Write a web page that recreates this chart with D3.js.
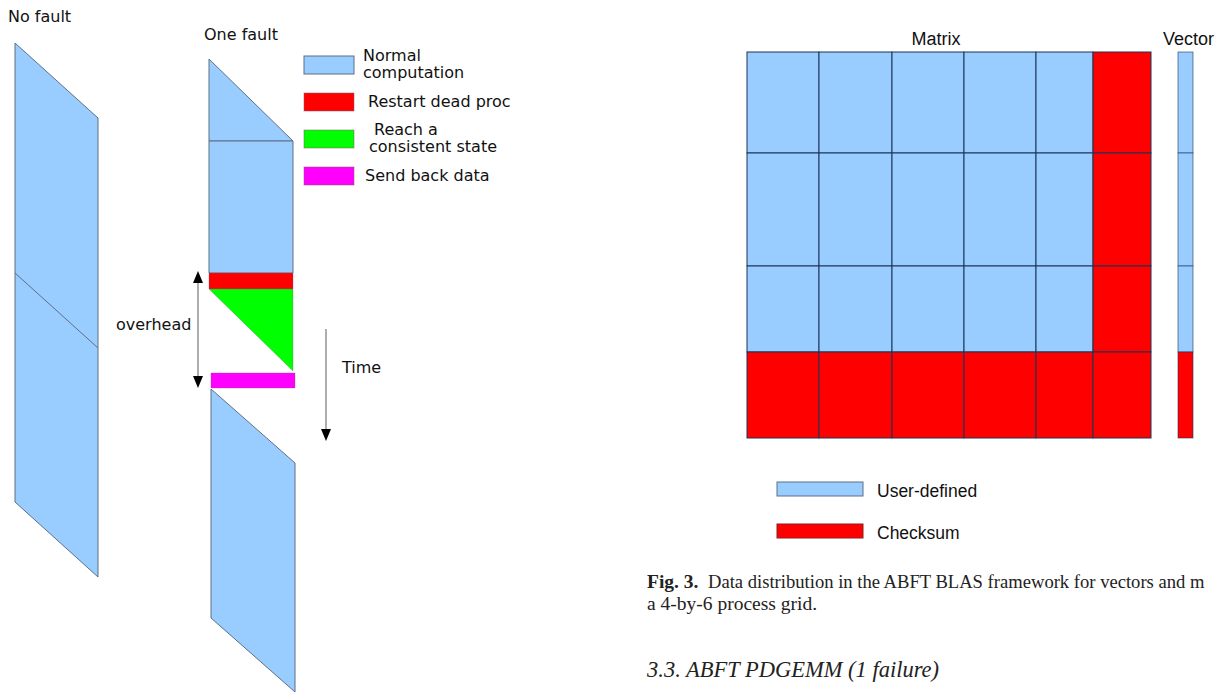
<!DOCTYPE html>
<html><head><meta charset="utf-8">
<script src="https://cdn.jsdelivr.net/npm/d3@7"></script>
<style>html,body{margin:0;padding:0;background:#fff;overflow:hidden}</style>
</head><body>
<svg id="c" width="1222" height="692"></svg>
<script>
// ---------- data ----------
// Left diagram: time units along the process column (0 = top of "No fault")
const noFaultSpan = [0, 459];          // left-edge start / end
const noFaultSkew = 75;                // time shift across the column
const noFaultCut = [230];              // iteration boundary on left edge
const oneFaultPhases = [
  {phase: "normal",     kind: "topTri",  t0: 16,  t1: 98},
  {phase: "normal",     kind: "rect",    t0: 98,  t1: 230},
  {phase: "restart",    kind: "rect",    t0: 230, t1: 246},
  {phase: "consistent", kind: "triR",    t0: 246, t1: 328},
  {phase: "sendback",   kind: "rectS",   t0: 330, t1: 345},
  {phase: "normal",     kind: "skew",    t0: 346, t1: 575, skew: 74}
];
const legendPhases = ["normal", "restart", "consistent", "sendback"];
const legendLabels = [["Normal", "computation"], ["Restart dead proc"], ["Reach a", "consistent state"], ["Send back data"]];
const overheadSpan = [228, 345];
const timeSpan = [286, 398];

// Right diagram: 4-by-6 process grid
const colBounds = [0, 72, 145, 217, 289, 346, 404];
const rowBounds = [0, 101, 214, 300, 386];
const checksumCol = 5;
const checksumRow = 3;
const gridLegend = ["User-defined", "Checksum"];

const captionBold = "Fig. 3.";
const captionLine1 = "Data distribution in the ABFT BLAS framework for vectors and m";
const captionLine2 = "a 4-by-6 process grid.";
const heading = "3.3.  ABFT PDGEMM (1 failure)";

// ---------- styles ----------
const col = {normal: "#99ccff", restart: "#ff0000", consistent: "#00ff00", sendback: "#ff00ff"};
const edge = "#5f6f86";
const gridEdge = "#1d3557";

const svg = d3.select("#c");
const ty = d3.scaleLinear().domain([0, 650]).range([43, 693]);
const sans = "'DejaVu Sans', Verdana, sans-serif";

// No fault column
const nfx = d3.scaleLinear().domain([0, 1]).range([15, 98]);
const line = d3.line();
svg.append("path")
  .attr("d", line([[nfx(0), ty(noFaultSpan[0])], [nfx(1), ty(noFaultSpan[0] + noFaultSkew)],
                   [nfx(1), ty(noFaultSpan[1] + noFaultSkew)], [nfx(0), ty(noFaultSpan[1])]]) + "Z")
  .attr("fill", col.normal).attr("stroke", edge).attr("stroke-width", 1);
noFaultCut.forEach(t => svg.append("line")
  .attr("x1", nfx(0)).attr("y1", ty(t)).attr("x2", nfx(1)).attr("y2", ty(t + noFaultSkew))
  .attr("stroke", edge).attr("stroke-width", 1));

// One fault column
const ofx = d3.scaleLinear().domain([0, 1]).range([209, 293]);
const ofx2 = d3.scaleLinear().domain([0, 1]).range([211, 295]);
oneFaultPhases.forEach(p => {
  let pts;
  if (p.kind === "topTri") pts = [[ofx(0), ty(p.t0)], [ofx(1), ty(p.t1)], [ofx(0), ty(p.t1)]];
  else if (p.kind === "rect") pts = [[ofx(0), ty(p.t0)], [ofx(1), ty(p.t0)], [ofx(1), ty(p.t1)], [ofx(0), ty(p.t1)]];
  else if (p.kind === "triR") pts = [[ofx(0), ty(p.t0)], [ofx(1), ty(p.t0)], [ofx(1), ty(p.t1)]];
  else if (p.kind === "rectS") pts = [[ofx2(0), ty(p.t0)], [ofx2(1), ty(p.t0)], [ofx2(1), ty(p.t1)], [ofx2(0), ty(p.t1)]];
  else pts = [[ofx2(0), ty(p.t0)], [ofx2(1), ty(p.t0 + p.skew)], [ofx2(1), ty(p.t1 + p.skew)], [ofx2(0), ty(p.t1)]];
  svg.append("path").attr("d", line(pts) + "Z")
    .attr("fill", col[p.phase]).attr("stroke", p.phase === "normal" ? edge : "#7a5a7a").attr("stroke-width", p.phase === "normal" ? 1 : 0.6)
    .attr("stroke-opacity", p.phase === "normal" ? 1 : 0.5);
});

// Arrows
function arrowHead(x, y, dir) {
  const h = 12 * dir, w = 5;
  svg.append("path").attr("d", line([[x, y], [x - w, y - h], [x + w, y - h]]) + "Z").attr("fill", "#000");
}
svg.append("line").attr("x1", 198).attr("x2", 198).attr("y1", ty(overheadSpan[0]) + 6).attr("y2", ty(overheadSpan[1]) - 6)
  .attr("stroke", "#777").attr("stroke-width", 1.2);
arrowHead(198, ty(overheadSpan[0]), -1);
arrowHead(198, ty(overheadSpan[1]), 1);
svg.append("line").attr("x1", 326).attr("x2", 326).attr("y1", ty(timeSpan[0])).attr("y2", ty(timeSpan[1]) - 6)
  .attr("stroke", "#777").attr("stroke-width", 1.2);
arrowHead(326, ty(timeSpan[1]), 1);

// Left texts
function txt(x, y, s, opts = {}) {
  return svg.append("text").attr("x", x).attr("y", y).text(s)
    .attr("font-family", opts.family || sans).attr("font-size", opts.size || 16)
    .attr("fill", opts.fill || "#111").attr("text-anchor", opts.anchor || "start")
    .attr("font-weight", opts.weight || "normal").attr("font-style", opts.style || "normal");
}
txt(8, 22, "No fault");
txt(204, 40, "One fault");
txt(116, 330, "overhead");
txt(342, 373, "Time");

// Legend (left)
const lgY = d3.scalePoint().domain(legendPhases).range([56, 167]);
const lgX = [363, 368, 374, 365];
const lgX2 = [363, 368, 369, 365];
legendPhases.forEach((ph, i) => {
  const y0 = lgY(ph);
  svg.append("rect").attr("x", 304).attr("y", y0).attr("width", 50).attr("height", 18)
    .attr("fill", col[ph]).attr("stroke", ph === "normal" ? edge : "#8a5a6a").attr("stroke-width", 1).attr("stroke-opacity", ph === "normal" ? 1 : 0.5);
  const lines = legendLabels[i];
  if (lines.length === 1) txt(lgX[i], y0 + 14, lines[0]);
  else { txt(lgX[i], y0 + 5, lines[0]); txt(lgX2[i], y0 + 22, lines[1]); }
});

// ---------- Matrix grid ----------
const gx = d3.scaleLinear().domain([0, 404]).range([747, 1151]);
const gy = d3.scaleLinear().domain([0, 386]).range([52, 438]);
const cells = [];
for (let r = 0; r < rowBounds.length - 1; r++)
  for (let c = 0; c < colBounds.length - 1; c++)
    cells.push({r, c, chk: c === checksumCol || r === checksumRow});
svg.append("g").selectAll("rect").data(cells).join("rect")
  .attr("x", d => gx(colBounds[d.c])).attr("y", d => gy(rowBounds[d.r]))
  .attr("width", d => gx(colBounds[d.c + 1]) - gx(colBounds[d.c]))
  .attr("height", d => gy(rowBounds[d.r + 1]) - gy(rowBounds[d.r]))
  .attr("fill", d => d.chk ? col.restart : col.normal)
  .attr("stroke", gridEdge).attr("stroke-width", 1);
// Vector
const vec = d3.range(rowBounds.length - 1).map(r => ({r, chk: r === checksumRow}));
svg.append("g").selectAll("rect").data(vec).join("rect")
  .attr("x", 1178).attr("y", d => gy(rowBounds[d.r])).attr("width", 15)
  .attr("height", d => gy(rowBounds[d.r + 1]) - gy(rowBounds[d.r]))
  .attr("fill", d => d.chk ? col.restart : col.normal)
  .attr("stroke", gridEdge).attr("stroke-width", 1).attr("stroke-opacity", 0.6);

const hel = "'Liberation Sans', Arial, sans-serif";
txt(936, 45, "Matrix", {family: hel, size: 18, anchor: "middle"});
txt(1163, 45, "Vector", {family: hel, size: 18});

gridLegend.forEach((s, i) => {
  const y0 = [482, 524][i];
  svg.append("rect").attr("x", 777).attr("y", y0).attr("width", 86).attr("height", 14)
    .attr("fill", i ? col.restart : col.normal).attr("stroke", i ? "#8a2020" : edge).attr("stroke-width", 1);
  txt(877, y0 + 15, s, {family: hel, size: 17.5});
});

// Caption
const serif = "'Liberation Serif', 'Times New Roman', serif";
txt(647, 588, captionBold, {family: serif, size: 19.5, weight: "bold", fill: "#222"});
txt(708, 588, captionLine1, {family: serif, size: 18.6, fill: "#222"});
txt(647, 610, captionLine2, {family: serif, size: 19.5, fill: "#222"});
txt(647, 677, heading, {family: serif, size: 22.5, style: "italic", fill: "#222"});
</script>
</body></html>
